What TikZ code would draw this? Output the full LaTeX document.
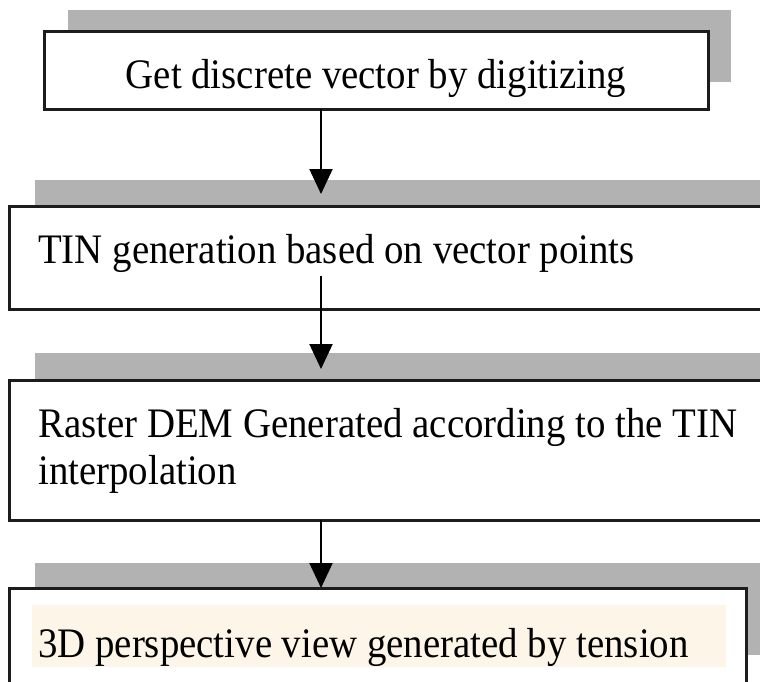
\documentclass[tikz,border=0pt]{standalone}
\usepackage{fontspec}
\setmainfont{Liberation Serif}
\newfontfamily\boxfont[FakeStretch=0.925]{Liberation Serif}
\usetikzlibrary{arrows.meta}
\definecolor{shadowgray}{HTML}{B3B2B2}
\definecolor{edgecol}{HTML}{1C1C1C}
\definecolor{beige}{HTML}{FDF5E7}
\tikzset{
  shadowbox/.style={fill=shadowgray, draw=none},
  stepbox/.style={draw=edgecol, line width=3pt, fill=white},
  label/.style={font=\boxfont\fontsize{42}{50}\selectfont, inner sep=0pt, anchor=base west, text=black},
  flow/.style={draw=black, line width=2pt, -{Triangle[length=25pt,width=23pt]}},
}
\begin{document}
\begin{tikzpicture}[x=1pt,y=-1pt]
\useasboundingbox (0,0) rectangle (760,681);
\clip (0,0) rectangle (760,681);
% shadows
\fill[shadowbox] (68,10) rectangle (731,82);
\fill[shadowbox] (35,180) rectangle (790,300);
\fill[shadowbox] (35,353) rectangle (790,500);
\fill[shadowbox] (35,563) rectangle (790,655);
% boxes
\draw[stepbox] (44,31) rectangle (708,109);
\draw[stepbox] (9,206) rectangle (790,309);
\draw[stepbox] (9,380) rectangle (790,520);
\draw[stepbox] (9,588) rectangle (746,720);
\fill[beige] (32,605) rectangle (726,667);
% texts
\node[label, anchor=base] (t1) at (376,88) {Get discrete vector by digitizing};
\node[label] (t2) at (38,263) {TIN generation based on vector points};
\node[label] (t3) at (38,437) {Raster DEM Generated according to the TIN};
\node[label] (t3b) at (38,484) {interpolation};
\node[label] (t4) at (38,657) {3D perspective view generated by tension};
% connectors
\coordinate (a1s) at (321,109);
\coordinate (a1e) at (321,194);
\coordinate (a2s) at (321,276);
\coordinate (a2e) at (321,369);
\coordinate (a3s) at (321,520);
\coordinate (a3e) at (321,588);
\draw[flow] (a1s) -- (a1e);
\draw[flow] (a2s) -- (a2e);
\draw[flow] (a3s) -- (a3e);
\end{tikzpicture}
\end{document}
